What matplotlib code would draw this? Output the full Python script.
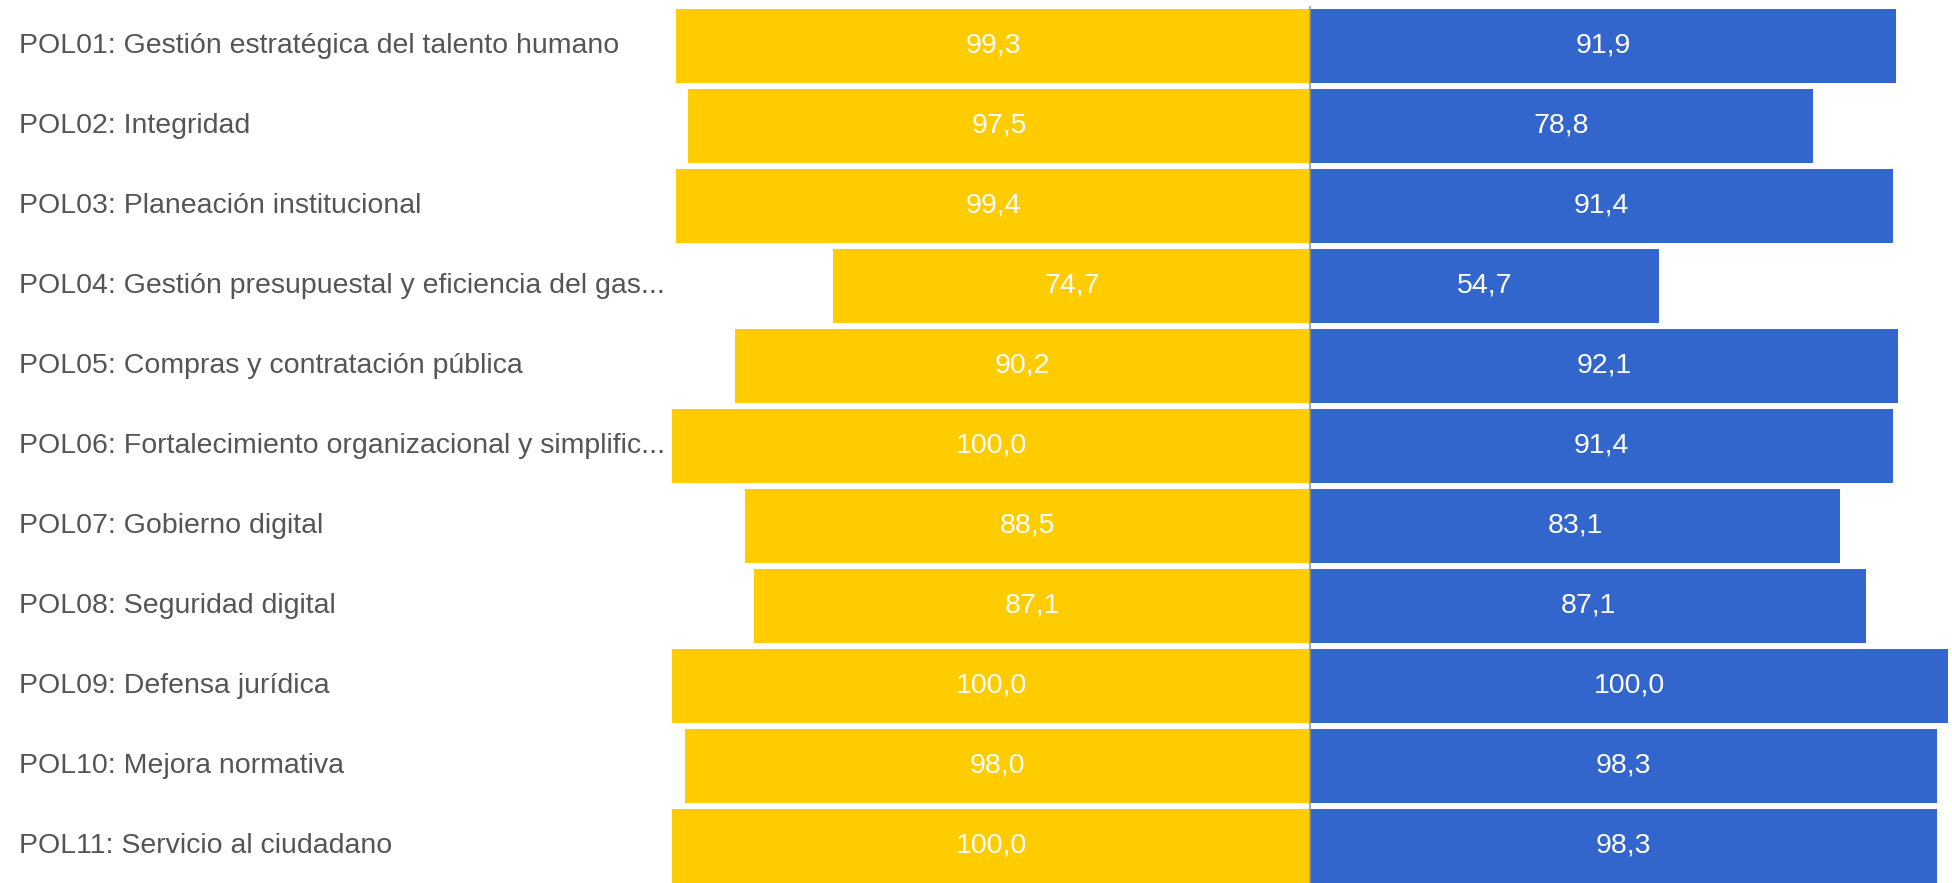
import matplotlib
matplotlib.use("Agg")
import matplotlib.pyplot as plt
from matplotlib.transforms import blended_transform_factory

# Politicas (Reihenfolge von oben nach unten)
categorias = [
    "POL01: Gestión estratégica del talento humano",
    "POL02: Integridad",
    "POL03: Planeación institucional",
    "POL04: Gestión presupuestal y eficiencia del gas...",
    "POL05: Compras y contratación pública",
    "POL06: Fortalecimiento organizacional y simplific...",
    "POL07: Gobierno digital",
    "POL08: Seguridad digital",
    "POL09: Defensa jurídica",
    "POL10: Mejora normativa",
    "POL11: Servicio al ciudadano",
]
valores_izq = [99.3, 97.5, 99.4, 74.7, 90.2, 100.0, 88.5, 87.1, 100.0, 98.0, 100.0]
valores_der = [91.9, 78.8, 91.4, 54.7, 92.1, 91.4, 83.1, 87.1, 100.0, 98.3, 98.3]

AMARILLO = "#FFCC00"
AZUL = "#3366CC"
FS = 20.5

plt.rcParams["font.family"] = ["Liberation Sans", "DejaVu Sans"]

W, H = 1952, 883
fig = plt.figure(figsize=(W / 100, H / 100), dpi=100)
# Achse: links ab Balken-Nullpunkt -100, oben 6px Rand
ax = fig.add_axes([672 / W, (H - 6 - 880) / H, 1 - 672 / W, 880 / H])

y = list(range(len(categorias)))
h = 0.92
ax.barh(y, [-v for v in valores_izq], height=h, color=AMARILLO, linewidth=0)
ax.barh(y, valores_der, height=h, color=AZUL, linewidth=0)
ax.axvline(0, color="#999999", linewidth=1.2, zorder=3)

fmt = lambda v: f"{v:.1f}".replace(".", ",")
for yi, a, b in zip(y, valores_izq, valores_der):
    ax.text(-a / 2, yi, fmt(a), ha="center", va="center", color="white", fontsize=FS)
    ax.text(b / 2, yi, fmt(b), ha="center", va="center", color="white", fontsize=FS)

# Beschriftung links, ausserhalb der Achse
trans = blended_transform_factory(fig.transFigure, ax.transData)
for yi, lab in zip(y, categorias):
    ax.text(19 / W, yi, lab, transform=trans, ha="left", va="center",
            color="#555555", fontsize=FS, clip_on=False)

ax.set_xlim(-100, 100.6)
ax.set_ylim(len(categorias) - 0.5, -0.5)
ax.axis("off")

fig.savefig("out.png", dpi=100)
